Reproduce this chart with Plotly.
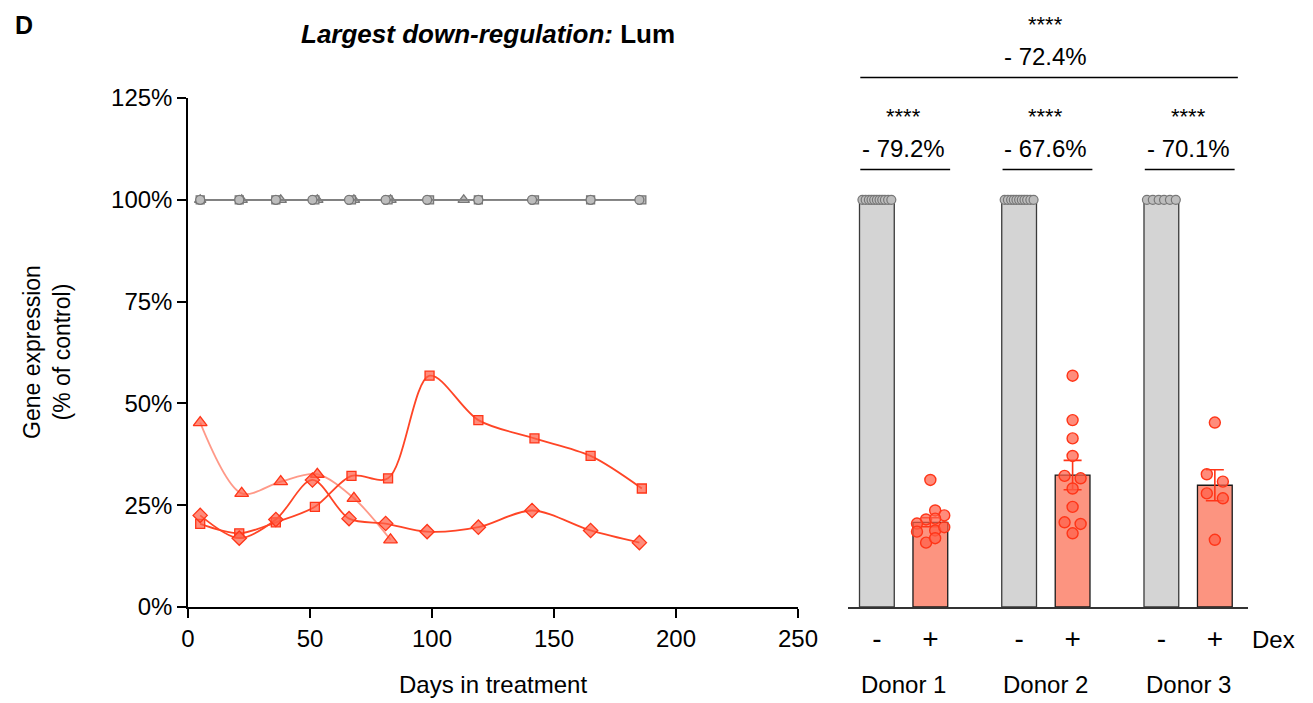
import plotly.graph_objects as go

# ---------------- data ----------------
days_d1 = [5, 21, 36, 51, 66, 81, 98, 119, 141, 165, 185]           # diamonds (Donor 1)
dex_d1 = [22.5, 16.9, 21.5, 31.2, 21.7, 20.5, 18.5, 19.6, 23.7, 18.8, 15.8]
days_d2 = [5, 21, 36, 52, 67, 82, 99, 119, 142, 165, 186]           # squares (Donor 2)
dex_d2 = [20.4, 18.1, 20.8, 24.6, 32.2, 31.6, 56.8, 45.9, 41.4, 37.1, 29.1]
days_d3 = [5, 22, 38, 53, 68, 83]                                   # triangles (Donor 3)
dex_d3 = [45.3, 27.9, 30.8, 32.6, 26.7, 16.5]

ctrl_days_d1 = [5, 21, 36, 51, 66, 81, 98, 119, 141, 165, 185]
ctrl_d1 = [100, 100, 100, 100, 100, 100, 100, 100, 100, 100, 100]
ctrl_days_d2 = [5, 21, 36, 52, 67, 82, 99, 119, 142, 165, 186]
ctrl_d2 = [100, 100, 100, 100, 100, 100, 100, 100, 100, 100, 100]
ctrl_days_d3 = [5, 22, 38, 53, 68, 83, 113]
ctrl_d3 = [100, 100, 100, 100, 100, 100, 100]

donors = ["Donor 1", "Donor 2", "Donor 3"]
ctrl_mean = [100, 100, 100]
dex_mean = [20.8, 32.4, 29.9]
dex_sem = [1.1, 3.6, 3.8]
reduction_labels = ["- 79.2%", "- 67.6%", "- 70.1%"]
overall_label = "- 72.4%"
sig_labels = ["****", "****", "****"]
overall_sig = "****"
dex_ticktext = ["-", "+"]

# ---------------- styles ----------------
FONT = "Liberation Sans, Arial, Helvetica, sans-serif"
RED_LINE = "#ff4526"
RED_LINE_LIGHT = "rgba(255,69,38,0.55)"
RED_FILL = "rgba(255,95,72,0.72)"
RED_EDGE = "#ff3518"
GREY_LINE = "#808080"
GREY_FILL = "#bdbdbd"
GREY_EDGE = "#777777"
BAR_GREY = "#d4d4d4"
BAR_RED = "#fc9480"

W, H = 1313, 703
def px_x(p):
    return p / W
def px_y(p):
    return (H - p) / H

fig = go.Figure()

def line_trace(x, y, color, symbol, size, fill, edge):
    return go.Scatter(
        x=x, y=y, mode="lines+markers",
        line=dict(color=color, width=1.8, shape="spline", smoothing=0.9),
        marker=dict(symbol=symbol, size=size, color=fill, line=dict(color=edge, width=1.3)),
        xaxis="x", yaxis="y", showlegend=False, hoverinfo="x+y",
    )

fig.add_trace(line_trace(ctrl_days_d3, ctrl_d3, GREY_LINE, "triangle-up", 10, GREY_FILL, GREY_EDGE))
fig.add_trace(line_trace(ctrl_days_d2, ctrl_d2, GREY_LINE, "square", 8, GREY_FILL, GREY_EDGE))
fig.add_trace(line_trace(ctrl_days_d1, ctrl_d1, GREY_LINE, "circle", 9, GREY_FILL, GREY_EDGE))

fig.add_trace(line_trace(days_d3, dex_d3, RED_LINE_LIGHT, "triangle-up", 12, RED_FILL, RED_EDGE))
fig.add_trace(line_trace(days_d2, dex_d2, RED_LINE, "square", 9, RED_FILL, RED_EDGE))
fig.add_trace(line_trace(days_d1, dex_d1, RED_LINE, "diamond", 11, RED_FILL, RED_EDGE))

group_pos = [0.0, 2.66, 5.32]
ctrl_pos = [g for g in group_pos]
dex_pos = [g + 1.0 for g in group_pos]
BAR_W = 0.65

fig.add_trace(go.Bar(
    x=ctrl_pos, y=ctrl_mean, width=BAR_W, marker=dict(color=BAR_GREY, line=dict(color="#3a3a3a", width=1.3)),
    xaxis="x2", yaxis="y2", showlegend=False,
))
fig.add_trace(go.Bar(
    x=dex_pos, y=dex_mean, width=BAR_W, marker=dict(color=BAR_RED, line=dict(color="#1a1a1a", width=1.3)),
    error_y=dict(type="data", array=dex_sem, color=RED_EDGE, thickness=1.6, width=9),
    xaxis="x2", yaxis="y2", showlegend=False,
))

jit_d1 = [0.0, 0.09, 0.26, -0.08, 0.09, -0.25, -0.25, 0.09, 0.26, -0.08, 0.09]
jit_d1_vals = [31.2, 23.7, 22.5, 21.5, 21.7, 20.5, 18.5, 18.8, 19.6, 15.8, 16.9]
jit_d2 = [0.0, 0.0, 0.0, 0.0, -0.15, 0.15, 0.0, 0.0, -0.15, 0.15, 0.0]
jit_d2_vals = [56.8, 45.9, 41.4, 37.1, 32.2, 31.6, 29.1, 24.6, 20.8, 20.4, 18.1]
jit_d3 = [0.0, -0.15, 0.15, -0.15, 0.15, 0.0]
jit_d3_vals = [45.3, 32.6, 30.8, 27.9, 26.7, 16.5]

xs, ys = [], []
for g, jit, vals in zip(dex_pos, [jit_d1, jit_d2, jit_d3], [jit_d1_vals, jit_d2_vals, jit_d3_vals]):
    xs += [g + j for j in jit]
    ys += vals
fig.add_trace(go.Scatter(
    x=xs, y=ys, mode="markers", xaxis="x2", yaxis="y2", showlegend=False,
    marker=dict(symbol="circle", size=11, color=RED_FILL, line=dict(color=RED_EDGE, width=1.4)),
))

ctrl_jit_a = [-0.27, -0.21, -0.15, -0.1, -0.05, 0.0, 0.05, 0.1, 0.15, 0.21, 0.27]
ctrl_jit_b = [-0.27, -0.16, -0.05, 0.05, 0.16, 0.27]
cx, cy = [], []
for g, jit, vals in zip(ctrl_pos, [ctrl_jit_a, ctrl_jit_a, ctrl_jit_b], [ctrl_d1, ctrl_d2, ctrl_d3[:6]]):
    cx += [g + j for j in jit]
    cy += vals
fig.add_trace(go.Scatter(
    x=cx, y=cy, mode="markers", xaxis="x2", yaxis="y2", showlegend=False, cliponaxis=False,
    marker=dict(symbol="circle", size=9, color=GREY_FILL, line=dict(color=GREY_EDGE, width=1.2)),
))

AX = dict(showgrid=False, zeroline=False, showline=True, linecolor="black", linewidth=1.5,
          ticks="outside", ticklen=9, tickwidth=1.5, tickcolor="black", automargin=False,
          tickfont=dict(family=FONT, size=24, color="black"))

ydom = [px_y(607), px_y(98)]
fig.update_layout(
    width=W, height=H, autosize=False,
    margin=dict(l=0, r=0, t=0, b=0, pad=0, autoexpand=False),
    paper_bgcolor="white", plot_bgcolor="white",
    font=dict(family=FONT, color="black"),
    barmode="overlay", showlegend=False,
    xaxis=dict(domain=[px_x(188), px_x(798)], range=[0, 250], tickvals=[0, 50, 100, 150, 200, 250],
               anchor="y", **AX),
    yaxis=dict(domain=ydom, range=[0, 125], tickvals=[0, 25, 50, 75, 100, 125],
               ticktext=["0%", "25%", "50%", "75%", "100%", "125%"], anchor="x", **AX),
    xaxis2=dict(domain=[px_x(848), px_x(1248)], range=[-0.54, 6.94], anchor="y2", automargin=False,
                showgrid=False, zeroline=False, showline=True, linecolor="#333333", linewidth=1.5,
                ticks="outside", ticklen=6, tickcolor="rgba(0,0,0,0)",
                tickvals=ctrl_pos + dex_pos,
                ticktext=[dex_ticktext[0]] * 3 + [dex_ticktext[1]] * 3,
                tickfont=dict(family=FONT, size=28, color="black")),
    yaxis2=dict(domain=ydom, range=[0, 125], anchor="x2", visible=False, automargin=False),
)

def txt(text, x, y, size=24, xref="paper", angle=0):
    return dict(text=text, x=x, y=y, xref=xref, yref="paper", xanchor="center", yanchor="middle",
                showarrow=False, textangle=angle, font=dict(family=FONT, size=size, color="black"))

ann = []
ann.append(txt("<b>D</b>", px_x(24), px_y(25), 25))
ann.append(txt("<b><i>Largest down-regulation:</i> Lum</b>", px_x(488), px_y(34), 26))
ann.append(txt("Gene expression<br>(% of control)", px_x(47), px_y(352), 23, angle=-90))
ann.append(txt("Days in treatment", px_x(493), px_y(684), 24))
ann.append(txt("Dex", px_x(1273), px_y(639), 24))
for g, name, lab, sig in zip(group_pos, donors, reduction_labels, sig_labels):
    mid = g + 0.5
    ann.append(txt(name, mid, px_y(684), 24, xref="x2"))
    ann.append(txt(lab, mid, px_y(148), 24, xref="x2"))
    ann.append(txt(sig, mid, px_y(116), 22, xref="x2"))
    fig.add_shape(type="line", xref="x2", yref="paper", x0=g - 0.31, x1=g + 1.37,
                  y0=px_y(169.5), y1=px_y(169.5), line=dict(color="black", width=1.5))
ann.append(txt(overall_label, 3.16, px_y(56), 24, xref="x2"))
ann.append(txt(overall_sig, 3.16, px_y(24), 22, xref="x2"))
fig.add_shape(type="line", xref="x2", yref="paper", x0=-0.31, x1=6.75,
              y0=px_y(77.5), y1=px_y(77.5), line=dict(color="black", width=1.5))

fig.update_layout(annotations=ann)
fig.write_html("out.html", config={"displayModeBar": False},
               post_script="document.body.style.margin='0';document.body.style.overflow='hidden';")
